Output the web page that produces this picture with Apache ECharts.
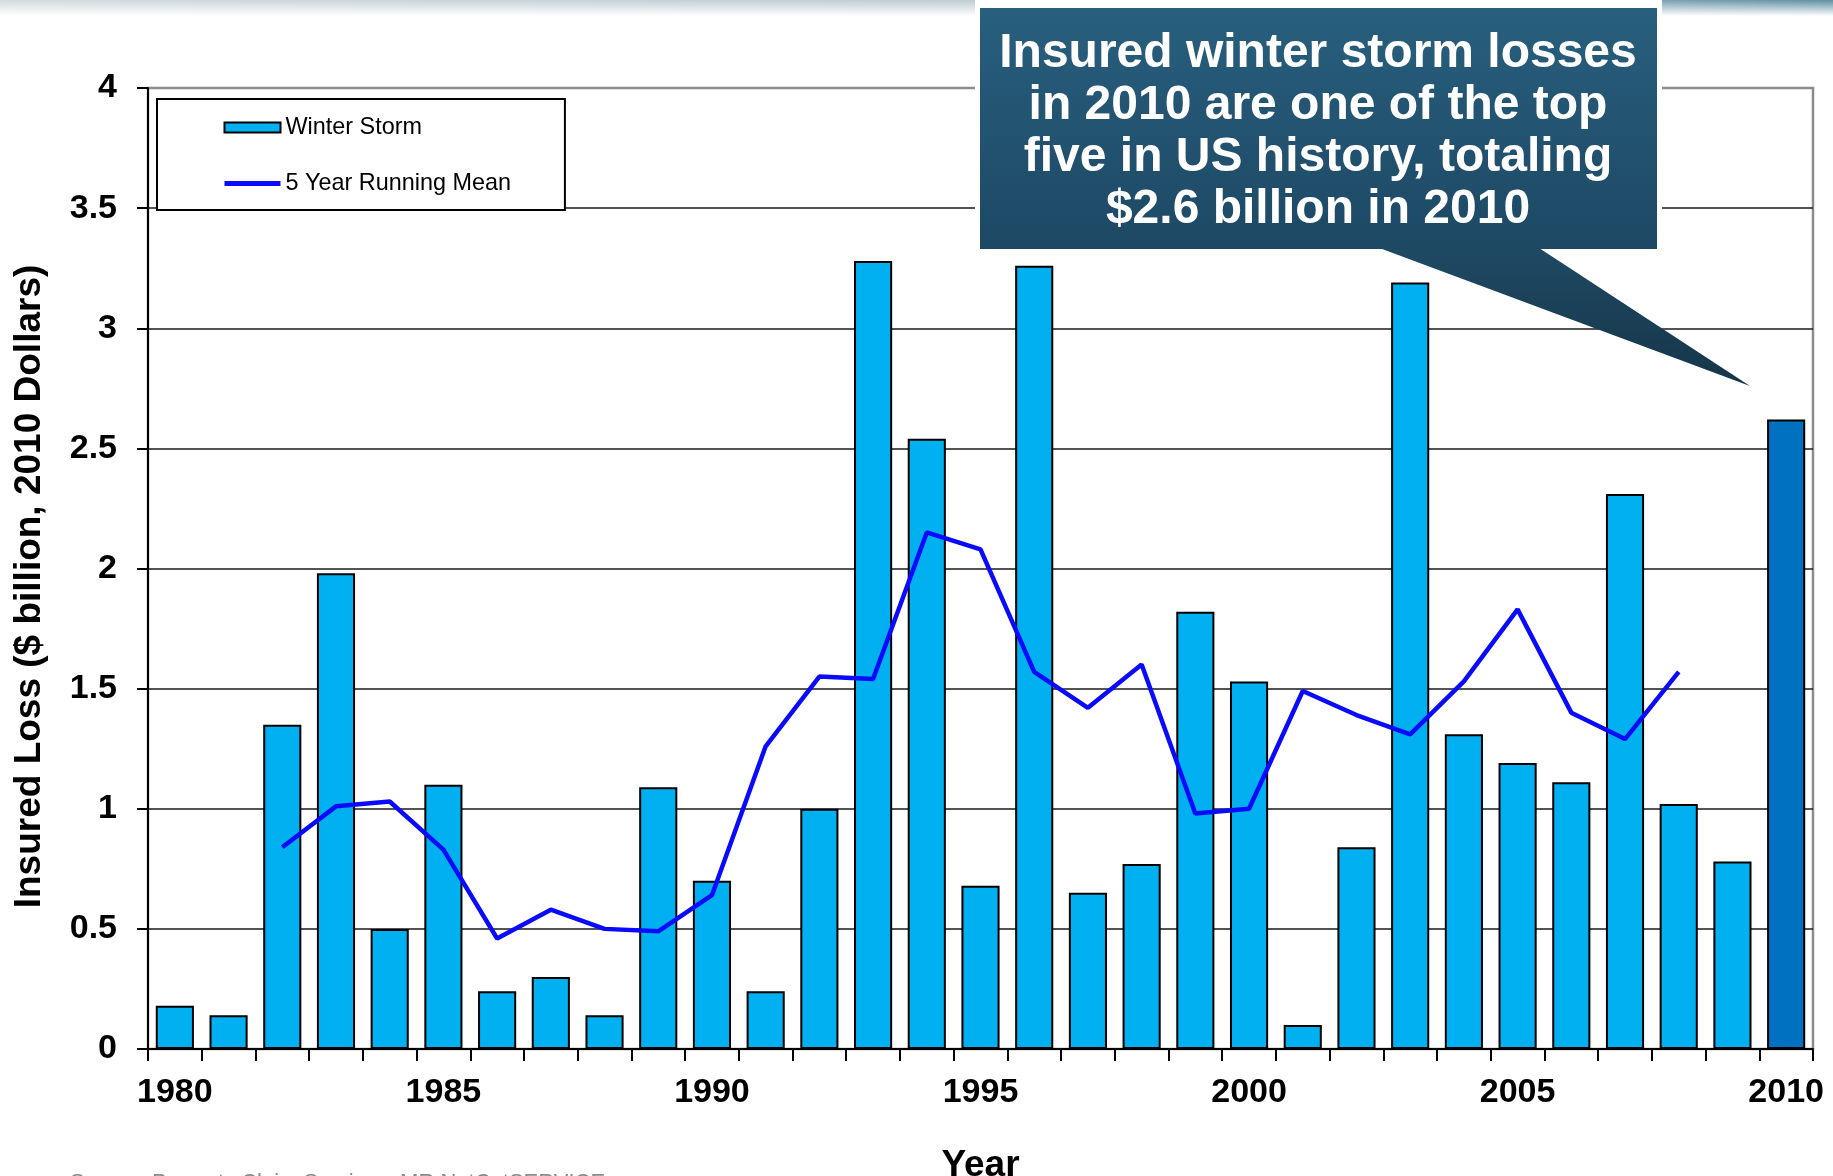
<!DOCTYPE html>
<html>
<head>
<meta charset="utf-8">
<title>Insured winter storm losses 1980-2010</title>
<script src="https://cdn.jsdelivr.net/npm/echarts@6/dist/echarts.min.js"></script>
<style>
  html, body { margin: 0; padding: 0; background: #fff; }
  #chart { width: 1833px; height: 1176px; }
</style>
</head>
<body>
<div id="chart"></div>
<script>
// Years on the category axis
const years = ['1980','1981','1982','1983','1984','1985','1986','1987','1988','1989',
  '1990','1991','1992','1993','1994','1995','1996','1997','1998','1999',
  '2000','2001','2002','2003','2004','2005','2006','2007','2008','2009','2010'];

// Annual insured winter storm losses ($ billion, 2010 dollars)
const winterStorm = [0.18, 0.14, 1.35, 1.98, 0.50, 1.10, 0.24, 0.30, 0.14, 1.09,
  0.70, 0.24, 1.00, 3.28, 2.54, 0.68, 3.26, 0.65, 0.77, 1.82,
  1.53, 0.10, 0.84, 3.19, 1.31, 1.19, 1.11, 2.31, 1.02, 0.78, 2.62];

// Centred five-year running mean (undefined at the two ends)
const runningMean = [null, null, 0.84, 1.01, 1.03, 0.83, 0.46, 0.58, 0.50, 0.49,
  0.64, 1.26, 1.55, 1.54, 2.15, 2.08, 1.57, 1.42, 1.60, 0.98,
  1.00, 1.49, 1.39, 1.31, 1.53, 1.83, 1.40, 1.29, 1.57, null, null];

// Value-axis range and step
const yMin = 0, yMax = 4, yStep = 0.5;

// Year that is highlighted in a darker blue
const highlightYear = '2010';

const calloutLines = [
  'Insured winter storm losses',
  'in 2010 are one of the top',
  'five in US history, totaling',
  '$2.6 billion in 2010'
];

const FONT = "'Liberation Sans', Arial, Helvetica, sans-serif";

const chart = echarts.init(document.getElementById('chart'), null, { renderer: 'canvas' });

const barData = winterStorm.map((v, i) => years[i] === highlightYear
  ? { value: v, itemStyle: { color: '#0070c0' } }
  : v);

// split line colours: dark for interior lines, grey for the top frame line
const splitColors = [];
for (let v = yMin; v <= yMax + 1e-9; v += yStep) splitColors.push(v >= yMax - 1e-9 ? '#8c8c8c' : '#1a1a1a');

const option = {
  animation: false,
  backgroundColor: '#ffffff',
  textStyle: { fontFamily: FONT },
  grid: {
    left: 148, right: 20, top: 88, bottom: 127,
    containLabel: false,
    outerBoundsMode: 'none',
    show: true, borderColor: '#8c8c8c', borderWidth: 2.5, backgroundColor: 'transparent'
  },
  legend: {
    left: 157, top: 99,
    orient: 'vertical',
    padding: [17, 54, 15, 65],
    itemGap: 33,
    itemWidth: 56, itemHeight: 10,
    borderColor: '#000', borderWidth: 2, backgroundColor: '#fff',
    textStyle: { fontSize: 23.4, color: '#000', fontFamily: FONT },
    data: [
      { name: 'Winter Storm', icon: 'rect' },
      { name: '5 Year Running Mean', itemStyle: { opacity: 0 }, lineStyle: { width: 5, color: '#0a0aff' } }
    ]
  },
  xAxis: {
    type: 'category',
    data: years,
    boundaryGap: true,
    name: 'Year',
    nameLocation: 'middle',
    nameGap: 98,
    nameTextStyle: { fontSize: 37, fontWeight: 'bold', color: '#000', fontFamily: FONT },
    axisLine: { lineStyle: { color: '#000', width: 2 } },
    axisTick: { show: true, interval: 0, length: 12, inside: false, lineStyle: { color: '#000', width: 2 } },
    axisLabel: { interval: 4, margin: 27, fontSize: 34, fontWeight: 'bold', color: '#000', fontFamily: FONT },
    splitLine: { show: false }
  },
  yAxis: {
    type: 'value',
    min: yMin, max: yMax, interval: yStep,
    name: 'Insured Loss ($ billion, 2010 Dollars)',
    nameLocation: 'middle',
    nameGap: 100,
    nameRotate: 90,
    nameTextStyle: { fontSize: 37, fontWeight: 'bold', color: '#000', fontFamily: FONT, padding: [0, 36, 0, 0] },
    axisLine: { show: true, lineStyle: { color: '#000', width: 2 } },
    axisTick: { show: true, length: 11, lineStyle: { color: '#000', width: 2 } },
    axisLabel: { margin: 31, fontSize: 34, fontWeight: 'bold', color: '#000', fontFamily: FONT },
    splitLine: { show: true, lineStyle: { color: splitColors, width: 1.6 } }
  },
  series: [
    {
      name: 'Winter Storm',
      type: 'bar',
      data: barData,
      barCategoryGap: '29%',
      itemStyle: { color: '#00b0f0', borderColor: '#000', borderWidth: 2 },
      z: 2
    },
    {
      name: '5 Year Running Mean',
      type: 'line',
      data: runningMean,
      symbol: 'none',
      showSymbol: false,
      connectNulls: false,
      lineStyle: { color: '#0a0aff', width: 4.5 },
      itemStyle: { color: '#0a0aff' },
      z: 3
    }
  ],
  graphic: [
    // header band across the top edge
    {
      type: 'rect', z: 1,
      shape: { x: 0, y: 0, width: 1833, height: 16 },
      style: {
        fill: { type: 'linear', x: 0, y: 0, x2: 1, y2: 0,
          colorStops: [
            { offset: 0, color: '#d3dade' },
            { offset: 0.7, color: '#b7c6cd' },
            { offset: 1, color: '#5f8fa2' }
          ] }
      }
    },
    {
      type: 'rect', z: 2,
      shape: { x: 0, y: 0, width: 1833, height: 16 },
      style: {
        fill: { type: 'linear', x: 0, y: 0, x2: 0, y2: 1,
          colorStops: [
            { offset: 0, color: 'rgba(255,255,255,0)' },
            { offset: 1, color: 'rgba(255,255,255,1)' }
          ] }
      }
    },
    // source note along the bottom edge
    {
      type: 'text', z: 5,
      left: 70, top: 1172,
      style: {
        text: 'Source: Property Claim Services, MR NatCatSERVICE',
        fill: '#8a8a8a', font: '22px ' + FONT
      }
    },
    // callout box with pointer towards the 2010 bar
    {
      type: 'group', z: 100,
      children: [
        {
          type: 'rect', z: 100,
          shape: { x: 975, y: 0, width: 687, height: 254 },
          style: { fill: '#ffffff' }
        },
        {
          type: 'polygon', z: 101,
          shape: { points: [[1374, 246], [1536, 246], [1750, 386]] },
          style: {
            fill: { type: 'linear', x: 0, y: 0, x2: 0, y2: 1,
              colorStops: [
                { offset: 0, color: '#1f4a64' },
                { offset: 1, color: '#163549' }
              ] }
          }
        },
        {
          type: 'rect', z: 102,
          shape: { x: 980, y: 8, width: 677, height: 241 },
          style: {
            fill: { type: 'linear', x: 0, y: 0, x2: 0, y2: 1,
              colorStops: [
                { offset: 0, color: '#285f7e' },
                { offset: 1, color: '#1d4864' }
              ] }
          }
        },
        {
          type: 'text', z: 103,
          x: 1318, y: 28,
          style: {
            text: calloutLines.join('\n'),
            fill: '#ffffff',
            font: 'bold 48px ' + FONT,
            align: 'center',
            verticalAlign: 'top',
            lineHeight: 52
          }
        }
      ]
    }
  ]
};

chart.setOption(option);
</script>
</body>
</html>
